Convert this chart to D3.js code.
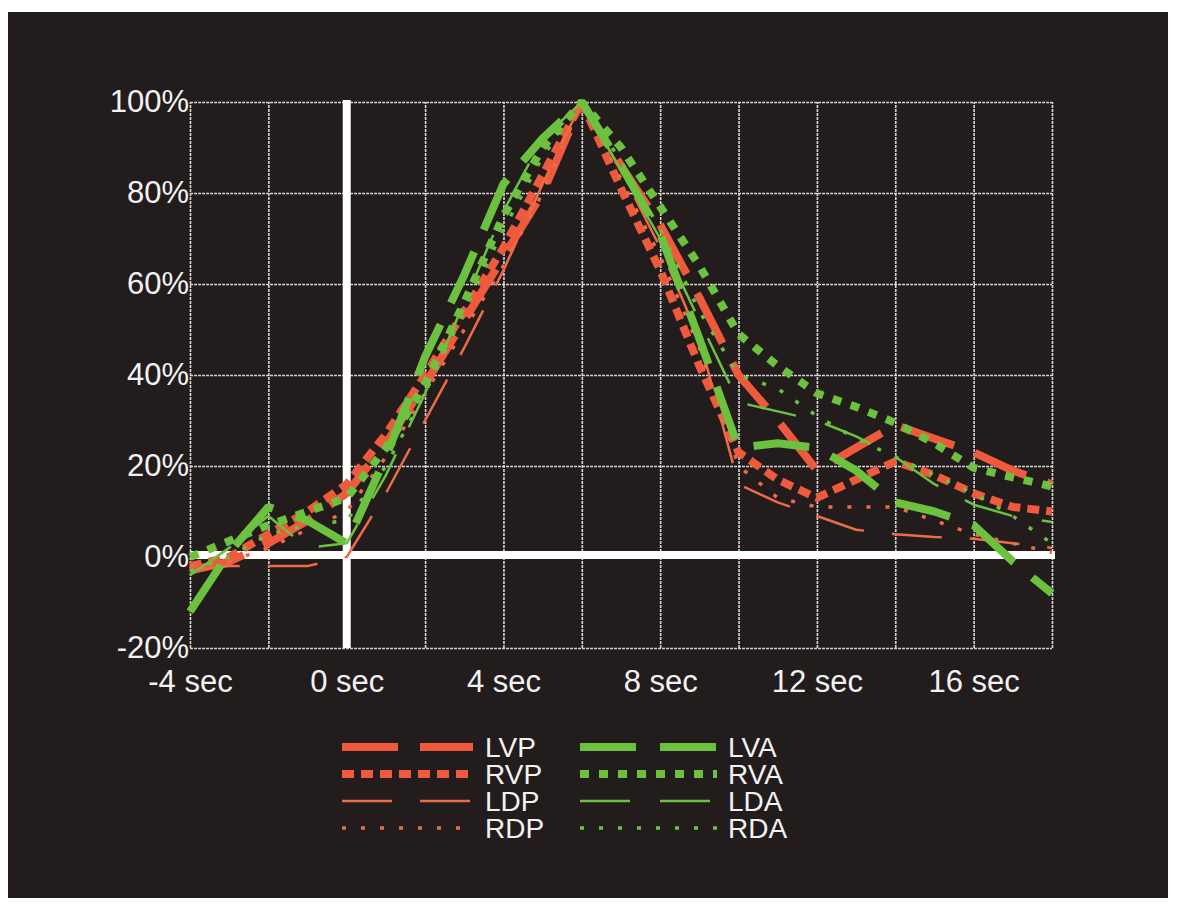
<!DOCTYPE html>
<html>
<head>
<meta charset="utf-8">
<script src="https://cdn.jsdelivr.net/npm/d3@7"></script>
<style>
  body { margin: 0; background: #ffffff; }
  svg { display: block; }
  text { font-family: "Liberation Sans", Arial, sans-serif; fill: #f2f2f2; }
</style>
</head>
<body>
<svg id="chart" width="1177" height="912"></svg>
<script>
// seconds from the start of the event
const seconds = [-4, -3, -2, -1, 0, 1, 2, 3, 4, 5, 6, 7, 8, 9, 10, 11, 12, 13, 14, 15, 16, 17, 18]

// percent of peak, one value per second
const lvp = [-3, -1, 3, 8, 14, 25, 38, 52, 66, 80, 100, 86, 73, 57, 40, 30, 19, 24, 29, 26, 23, 19, 16]
const rvp = [-2, 0, 5, 10, 16, 27, 40, 54, 68, 84, 100, 81, 63, 42, 23, 17, 13, 17, 21, 18, 14, 11, 10]
const ldp = [-3, -2, -2, -2, 0, 14, 30, 46, 63, 82, 100, 85, 68, 48, 16, 12, 9, 6, 5, 4.4, 4, 3, 2]
const rdp = [-2, -1, 2, 6, 10, 22, 36, 50, 64, 80, 100, 83, 66, 46, 20, 13, 11, 11, 11, 8, 5, 3, 1]
const lva = [-12, 1, 11, 8, 3, 22, 44, 62, 82, 92, 100, 86, 71, 48, 24, 25, 24, 19, 12, 10, 7, -1, -8]
const rva = [0, 3.5, 7, 10, 13, 24, 38, 56, 75, 90, 100, 90, 77, 64, 49, 42, 36, 33, 29.5, 25, 19.6, 17.5, 15.5]
const lda = [-4, 2, 9, 2, 3, 18, 36, 56, 76, 92, 100, 85, 70, 52, 34, 32, 30, 26.5, 22, 16, 11.5, 9, 7.7]
const rda = [-3, 0, 5, 7, 8, 20, 36, 54, 72, 88, 100, 87, 72, 54, 40, 37, 31, 26, 22, 18, 14, 9, 3]

const seriesNames = ['LVP', 'RVP', 'LDP', 'RDP', 'LVA', 'RVA', 'LDA', 'RDA']
const seriesValues = [lvp, rvp, ldp, rdp, lva, rva, lda, rda]

const xTicks = [-4, 0, 4, 8, 12, 16]
const yTicks = [-20, 0, 20, 40, 60, 80, 100]

const red = '#ee5a3b'
const green = '#6cc13e'

// how each trace is drawn (plot and legend share it)
const styles = {
  LVP: { color: red, width: 8, dash: '56 22' },
  RVP: { color: red, width: 8, dash: '12 7' },
  LDP: { color: '#ec6c48', width: 2.5, dash: '50 28' },
  RDP: { color: '#ec6c48', width: 3.5, dash: '4 15' },
  LVA: { color: green, width: 8, dash: '56 24' },
  RVA: { color: green, width: 8, dash: '9 10' },
  LDA: { color: green, width: 2.5, dash: '50 30' },
  RDA: { color: green, width: 3.5, dash: '4 15' }
}

const svg = d3.select('#chart')

// dark photo backdrop
svg.append('rect')
  .attr('x', 8).attr('y', 12)
  .attr('width', 1160).attr('height', 886)
  .attr('fill', '#221c1d')

const x = d3.scaleLinear().domain([-4, 18]).range([190, 1052])
const y = d3.scaleLinear().domain([-20, 100]).range([648, 102])

const plotWidth = x.range()[1] - x.range()[0]
const plotHeight = y.range()[0] - y.range()[1]

// grid: vertical every 2 sec, horizontal every 20%
const vGrid = svg.append('g')
  .attr('transform', `translate(0,${y(-20)})`)
  .call(d3.axisBottom(x)
    .tickValues(d3.range(-4, 19, 2))
    .tickSize(-plotHeight)
    .tickFormat(''))
vGrid.select('.domain').remove()

const hGrid = svg.append('g')
  .attr('transform', `translate(${x(-4)},0)`)
  .call(d3.axisLeft(y)
    .tickValues(yTicks)
    .tickSize(-plotWidth)
    .tickPadding(1)
    .tickFormat((d) => `${d}%`))
hGrid.select('.domain').remove()
hGrid.selectAll('text')
  .style('font-size', '31px')
  .attr('fill', '#f2f2f2')

svg.selectAll('.tick line')
  .attr('stroke', '#d6d6d6')
  .attr('stroke-width', 1.6)
  .attr('stroke-dasharray', '3 1')

const xAxis = svg.append('g')
  .attr('transform', `translate(0,${y(-20)})`)
  .call(d3.axisBottom(x)
    .tickValues(xTicks)
    .tickSize(0)
    .tickPadding(22)
    .tickFormat((d) => `${d} sec`))
xAxis.select('.domain').remove()
xAxis.selectAll('text')
  .style('font-size', '31px')
  .attr('fill', '#f2f2f2')

// thick zero lines
svg.append('line')
  .attr('x1', x(0)).attr('x2', x(0))
  .attr('y1', y(100) - 2).attr('y2', y(-20))
  .attr('stroke', '#ffffff').attr('stroke-width', 8)

svg.append('line')
  .attr('x1', x(-4)).attr('x2', x(18) + 3)
  .attr('y1', y(0) - 2).attr('y2', y(0) - 2)
  .attr('stroke', '#ffffff').attr('stroke-width', 8)

const series = seriesNames.map((name, i) => ({
  name: name,
  points: seconds.map((t, j) => ({ t: t, v: seriesValues[i][j] }))
}))

const line = d3.line()
  .x((d) => x(d.t))
  .y((d) => y(d.v))

// reds underneath, greens on top
svg.append('g')
  .selectAll('path')
  .data(series)
  .enter()
  .append('path')
  .attr('d', (s) => line(s.points))
  .attr('fill', 'none')
  .attr('stroke', (s) => styles[s.name].color)
  .attr('stroke-width', (s) => styles[s.name].width)
  .attr('stroke-dasharray', (s) => styles[s.name].dash)
  .attr('stroke-linejoin', 'bevel')

// legend, two columns of four
const legend = svg.append('g')
  .selectAll('g')
  .data(series)
  .enter()
  .append('g')
  .attr('transform', (s, i) => `translate(${i < 4 ? 342 : 580},${747 + (i % 4) * 27})`)

legend.append('line')
  .attr('x1', 0).attr('x2', (s, i) => i < 4 ? 131 : 137)
  .attr('stroke', (s) => styles[s.name].color)
  .attr('stroke-width', (s) => styles[s.name].width)
  .attr('stroke-dasharray', (s) => styles[s.name].dash)

legend.append('text')
  .attr('x', (s, i) => i < 4 ? 143 : 148)
  .attr('dy', '0.36em')
  .style('font-size', '28px')
  .text((s) => s.name)
</script>
</body>
</html>
